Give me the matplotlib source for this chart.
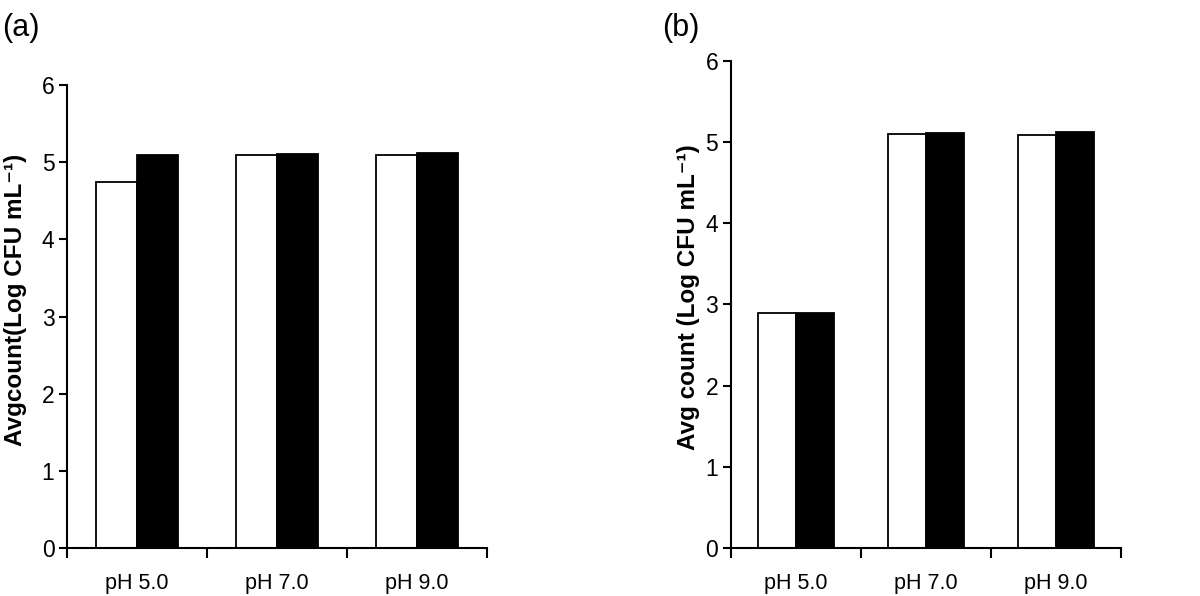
import matplotlib
matplotlib.use("Agg")
import matplotlib.pyplot as plt
import numpy as np

plt.rcParams['font.family'] = ['Liberation Sans', 'DejaVu Sans']

categories = ['pH 5.0', 'pH 7.0', 'pH 9.0']
a_white = [4.74, 5.09, 5.10]
a_black = [5.10, 5.11, 5.12]
b_white = [2.89, 5.10, 5.09]
b_black = [2.89, 5.11, 5.12]

fig = plt.figure(figsize=(12, 5.96), dpi=100)
ax_a = fig.add_axes([0.0558, 0.0805, 0.35, 0.7765])
ax_b = fig.add_axes([0.609, 0.0805, 0.325, 0.8175])

def draw_panel(ax, white, black, ylabel, label_xy):
    x = np.arange(len(categories))
    w = 0.29
    ax.bar(x - w / 2, white, w, color='white', edgecolor='black', linewidth=1.3)
    ax.bar(x + w / 2, black, w, color='black', edgecolor='black', linewidth=1.3)
    ax.set_xlim(-0.5, len(categories) - 0.5)
    ax.set_ylim(0, 6)
    ax.set_yticks(range(7))
    ax.set_xticks(np.arange(len(categories) + 1) - 0.5)
    ax.set_xticklabels([])
    ax.set_xticks(x, minor=True)
    ax.set_xticklabels(categories, minor=True)
    ax.tick_params(axis='x', which='minor', length=0, pad=18, labelsize=15.5)
    ax.tick_params(axis='x', which='major', length=7, width=1.5)
    ax.tick_params(axis='y', length=6, width=1.5, labelsize=16.5, pad=3)
    for s in ['top', 'right']:
        ax.spines[s].set_visible(False)
    for s in ['left', 'bottom']:
        ax.spines[s].set_linewidth(1.5)
    ax.set_ylabel(ylabel, fontsize=17.5, fontweight='bold')
    ax.yaxis.set_label_coords(*label_xy)

draw_panel(ax_a, a_white, a_black, 'Avgcount(Log CFU mL\u207b\u00b9)', (-0.095, 0.536))
draw_panel(ax_b, b_white, b_black, 'Avg count (Log CFU mL\u207b\u00b9)', (-0.079, 0.515))

fig.text(0.002, 0.978, '(a)', fontsize=22, va='top', ha='left')
fig.text(0.552, 0.978, '(b)', fontsize=22, va='top', ha='left')

fig.savefig('out.png', dpi=100)
